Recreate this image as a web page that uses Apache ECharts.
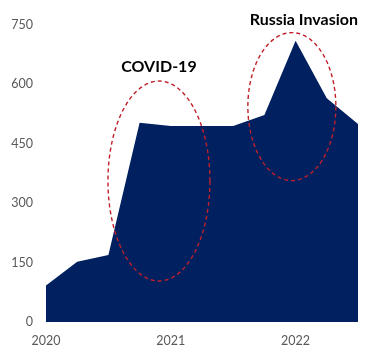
<!DOCTYPE html>
<html>
<head>
<meta charset="utf-8">
<script src="https://cdn.jsdelivr.net/npm/echarts@6/dist/echarts.min.js"></script>
<style>
  html, body { margin: 0; padding: 0; background: #ffffff; }
  #chart { width: 365px; height: 349px; }
</style>
</head>
<body>
<div id="chart"></div>
<script>
// Quarterly values, 2020 Q1 – 2022 Q3
const quarters = ['2020 Q1', '2020 Q2', '2020 Q3', '2020 Q4',
                  '2021 Q1', '2021 Q2', '2021 Q3', '2021 Q4',
                  '2022 Q1', '2022 Q2', '2022 Q3'];
const values = [92, 152, 169, 503, 495, 495, 495, 523, 710, 565, 500];
const yTicks = [0, 150, 300, 450, 600, 750];

// Annotations: label, centre in data space (fractional category index, value), radii in px
const notes = [
  { text: 'COVID-19', cx: 3.62, cy: 356, rx: 51, ry: 100, labelGap: 14, labelDx: 0 },
  { text: 'Russia Invasion', cx: 7.88, cy: 544, rx: 44, ry: 74, labelGap: 13, labelDx: 12 }
];

const FONT = 'Lato, "Liberation Sans", sans-serif';
const chart = echarts.init(document.getElementById('chart'), null, { renderer: 'canvas' });

chart.setOption({
  animation: false,
  backgroundColor: '#ffffff',
  grid: { left: 46, right: 7, top: 25, bottom: 27, containLabel: false },
  xAxis: {
    type: 'category',
    data: quarters,
    boundaryGap: false,
    axisLine: { show: false },
    axisTick: { show: false },
    axisLabel: {
      interval: 0,
      margin: 12,
      color: '#595959',
      fontFamily: FONT,
      fontSize: 12.5,
      formatter: v => v.endsWith('Q1') ? v.slice(0, 4) : ''
    }
  },
  yAxis: {
    type: 'value',
    min: yTicks[0],
    max: yTicks[yTicks.length - 1],
    interval: yTicks[1] - yTicks[0],
    splitLine: { show: false },
    axisLine: { show: false },
    axisTick: { show: false },
    axisLabel: { margin: 13, color: '#595959', fontFamily: FONT, fontSize: 12.5 }
  },
  series: [{
    type: 'line',
    data: values,
    symbol: 'none',
    lineStyle: { width: 0 },
    areaStyle: { color: '#002060', opacity: 1 }
  }]
});

// Category axes snap to whole indices, so interpolate fractional positions
function toPixel(idx, val) {
  const i0 = Math.floor(idx);
  const p0 = chart.convertToPixel({ gridIndex: 0 }, [i0, val]);
  const p1 = chart.convertToPixel({ gridIndex: 0 }, [i0 + 1, val]);
  const t = idx - i0;
  return [p0[0] + (p1[0] - p0[0]) * t, p0[1]];
}

function ellipsePoints(cx, cy, rx, ry) {
  const pts = [];
  for (let i = 0; i < 120; i++) {
    const a = (i / 120) * Math.PI * 2;
    pts.push([cx + rx * Math.cos(a), cy + ry * Math.sin(a)]);
  }
  return pts;
}

// Dashed ellipses with captions above them
const graphics = [];
notes.forEach(n => {
  const [px, py] = toPixel(n.cx, n.cy);
  graphics.push({
    type: 'polygon',
    shape: { points: ellipsePoints(px, py, n.rx, n.ry) },
    style: { fill: 'none', stroke: '#c0202a', lineWidth: 1.4, lineDash: [4, 3] },
    z: 10
  });
  graphics.push({
    type: 'text',
    x: px + n.labelDx,
    y: py - n.ry - n.labelGap,
    style: {
      text: n.text,
      fill: '#000000',
      font: 'bold 16px ' + FONT,
      textAlign: 'center',
      textVerticalAlign: 'middle'
    },
    z: 11
  });
});
chart.setOption({ graphic: graphics });
</script>
</body>
</html>
